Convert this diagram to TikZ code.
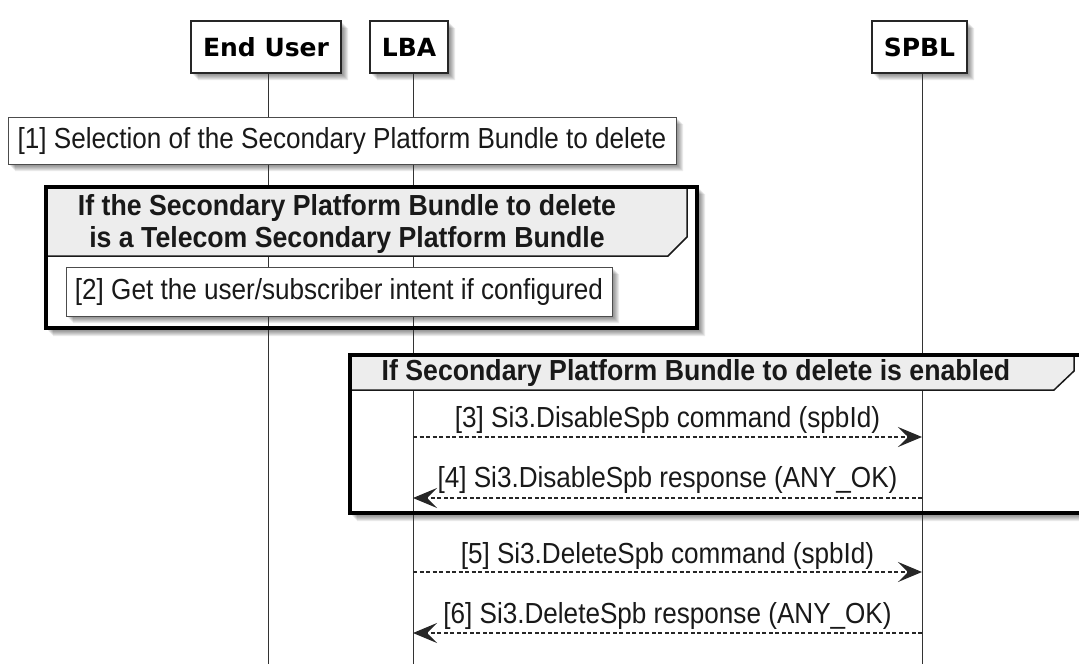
\documentclass[tikz,border=0pt]{standalone}
\usepackage{fontspec}
\setmainfont{Liberation Sans}[FakeStretch=0.9]
\newfontfamily\grpfont{Liberation Sans Bold}[FakeStretch=0.92]
\newfontfamily\partfont{DejaVu Sans Bold}
\usetikzlibrary{arrows.meta}
\newcommand{\Lshadow}[5]{%
  \foreach \s in {2,3,4,5,6,7}{%
    \fill[black,opacity=0.08] (#3,{#2+#5+\s-6}) -- ({#3+\s},{#2+#5+\s-6}) -- ({#3+\s},{#4+\s}) -- ({#1+#5+\s-6},{#4+\s}) -- ({#1+#5+\s-6},#4) -- (#3,#4) -- cycle;}}
\tikzset{
  part/.style={draw=black!85, line width=1.2pt, fill=white, minimum height=52pt, inner sep=0pt, font=\partfont\fontsize{25}{30}\selectfont},
  notebox/.style={draw=black!70, line width=1pt, fill=white, inner sep=0pt, font=\fontsize{29}{32}\selectfont, text=black!90},
  lifeline/.style={draw=black!80, line width=1pt},
  grp/.style={draw=black, line width=3.5pt},
  grphead/.style={draw=black!90, line width=1.5pt, fill=black!7},
  grptext/.style={font=\grpfont\fontsize{29}{32}\selectfont, align=center, inner sep=0pt, text=black!90},
  msg/.style={draw=black!85, line width=1.2pt, dash pattern=on 4pt off 2.5pt, -{Stealth[length=24pt,width=20pt,inset=10pt]}},
  msglabel/.style={font=\fontsize{29}{32}\selectfont, inner sep=0pt, text=black!90},
}
\begin{document}
\begin{tikzpicture}[x=1pt,y=-1pt]
\useasboundingbox (0,0) rectangle (1079,664);
\clip (0,0) rectangle (1079,664);
\fill[white] (0,0) rectangle (1079,664);
% shadows
\Lshadow{191}{21}{341}{73}{6}
\Lshadow{370}{21}{448}{73}{6}
\Lshadow{872}{21}{967}{73}{6}
\Lshadow{8}{117}{676}{164}{6}
\Lshadow{46}{187}{698}{329}{6}
\Lshadow{66}{267}{612}{316}{6}
\Lshadow{350}{355}{1100}{514}{6}
% lifelines
\coordinate (euT) at (268,73);  \coordinate (euB) at (268,664);
\coordinate (lbaT) at (413,73); \coordinate (lbaB) at (413,664);
\coordinate (spT) at (922,73);  \coordinate (spB) at (922,664);
\draw[lifeline] (euT) -- (euB);
\draw[lifeline] (lbaT) -- (lbaB);
\draw[lifeline] (spT) -- (spB);
% participants
\node[part, minimum width=150pt] (eu) at (266,47) {End User};
\node[part, minimum width=78pt] (lba) at (409,47) {LBA};
\node[part, minimum width=95pt] (spbl) at (919.5,47) {SPBL};
% note 1
\node[notebox, minimum width=668pt, minimum height=47pt] (n1) at (342,140.5) {[1] Selection of the Secondary Platform Bundle to delete};
% group 1
\draw[grphead] (46,187) -- (687,187) -- (687,237) -- (668,256) -- (46,256) -- cycle;
\node[grptext] (g1t) at (347,224) {If the Secondary Platform Bundle to delete\\ is a Telecom Secondary Platform Bundle};
\draw[grp] (46,187) rectangle (697,328);
\node[notebox, minimum width=546pt, minimum height=49pt] (n2) at (339,291.5) {[2] Get the user/subscriber intent if configured};
% group 2
\draw[grphead] (350,355) -- (1074,355) -- (1074,371) -- (1054,390) -- (350,390) -- cycle;
\node[grptext] (g2t) at (696,372.5) {If Secondary Platform Bundle to delete is enabled};
\draw[grp] (350,355) rectangle (1100,513);
% messages
\coordinate (m3a) at (413,437); \coordinate (m3b) at (922,437);
\draw[msg] (m3a) -- (m3b);
\node[msglabel] (l3) at (667.5,420) {[3] Si3.DisableSpb command (spbId)};
\coordinate (m4a) at (922,498); \coordinate (m4b) at (413,498);
\draw[msg] (m4a) -- (m4b);
\node[msglabel] (l4) at (667.5,480) {[4] Si3.DisableSpb response (ANY\_OK)};
\coordinate (m5a) at (413,572); \coordinate (m5b) at (922,572);
\draw[msg] (m5a) -- (m5b);
\node[msglabel] (l5) at (667.5,556) {[5] Si3.DeleteSpb command (spbId)};
\coordinate (m6a) at (922,633); \coordinate (m6b) at (413,633);
\draw[msg] (m6a) -- (m6b);
\node[msglabel] (l6) at (667.5,616) {[6] Si3.DeleteSpb response (ANY\_OK)};
\end{tikzpicture}
\end{document}
